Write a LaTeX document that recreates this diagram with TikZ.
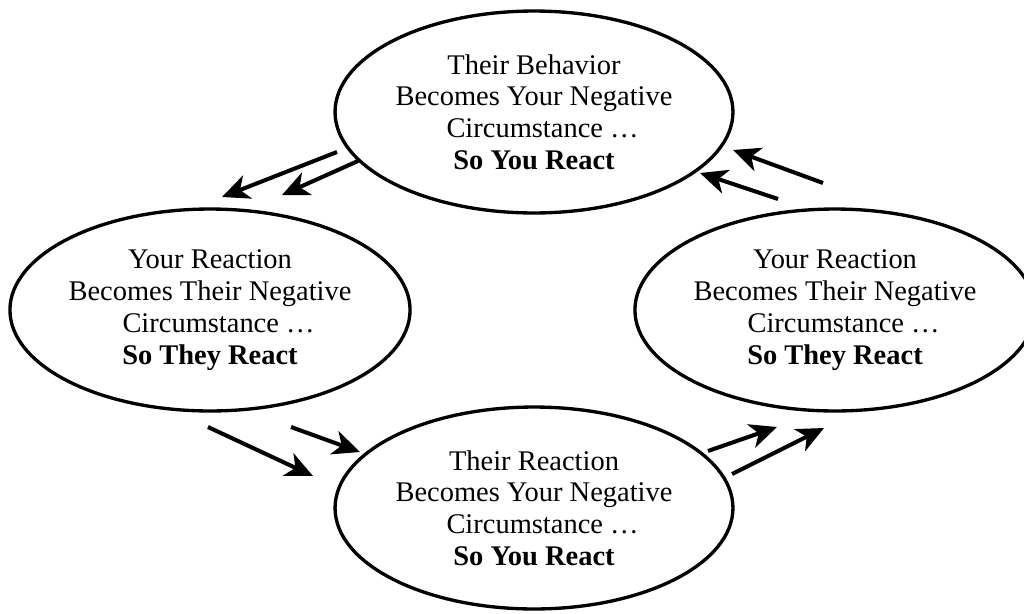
\documentclass[tikz,border=0pt]{standalone}
\usepackage{fontspec}
\setmainfont{Liberation Serif}
\usetikzlibrary{shapes.geometric,arrows.meta}

\begin{document}
\begin{tikzpicture}[x=0.02cm, y=-0.02cm,
    bubble/.style={ellipse, draw, line width=1.9pt, minimum width=7.96cm, minimum height=4.04cm,
                   inner sep=0pt, align=center, font=\fontsize{16.2}{18.1}\selectfont},
    arrow/.style={-{Stealth[length=15.5pt,width=14pt,inset=4.5pt]}, line width=2.3pt}
]
    \useasboundingbox (0,0) rectangle (1024,613);

    % Ellipses
    \node[bubble] (behav) at (534,112) {Their Behavior\\Becomes Your Negative\\\hspace*{0.6em}Circumstance …\\\textbf{So You React}};
    \node[bubble] (left) at (210,310) {Your Reaction\\Becomes Their Negative\\\hspace*{0.6em}Circumstance …\\\textbf{So They React}};
    \node[bubble] (right) at (835,310) {Your Reaction\\Becomes Their Negative\\\hspace*{0.6em}Circumstance …\\\textbf{So They React}};
    \node[bubble] (bottom) at (534,508) {Their Reaction\\Becomes Your Negative\\\hspace*{0.6em}Circumstance …\\\textbf{So You React}};

    % Arrow ends
    \coordinate (tl1s) at (337,152); \coordinate (tl1e) at (222,197);
    \coordinate (tl2s) at (358,161); \coordinate (tl2e) at (282,195);
    \coordinate (lb1s) at (208,427); \coordinate (lb1e) at (313,476);
    \coordinate (lb2s) at (291,427); \coordinate (lb2e) at (360,452);
    \coordinate (br1s) at (708,451); \coordinate (br1e) at (777,427);
    \coordinate (br2s) at (732,474); \coordinate (br2e) at (824,428);
    \coordinate (rt1s) at (823,183); \coordinate (rt1e) at (733,150);
    \coordinate (rt2s) at (778,199); \coordinate (rt2e) at (700,173);

    % Arrows
    \draw[arrow] (tl1s) -- (tl1e);
    \draw[arrow] (tl2s) -- (tl2e);
    \draw[arrow] (lb1s) -- (lb1e);
    \draw[arrow] (lb2s) -- (lb2e);
    \draw[arrow] (br1s) -- (br1e);
    \draw[arrow] (br2s) -- (br2e);
    \draw[arrow] (rt1s) -- (rt1e);
    \draw[arrow] (rt2s) -- (rt2e);
\end{tikzpicture}
\end{document}
